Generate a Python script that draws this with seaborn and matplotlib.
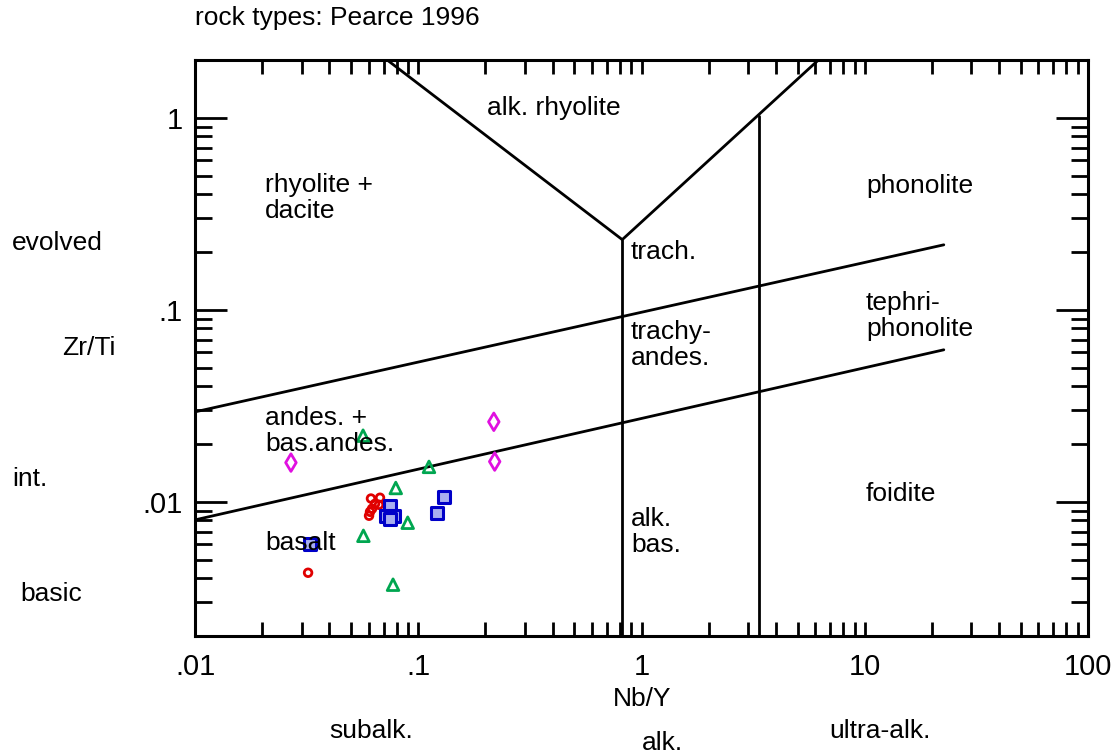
import numpy as np
import pandas as pd
import matplotlib
matplotlib.use("Agg")
import matplotlib.pyplot as plt
from matplotlib.ticker import FixedLocator, FixedFormatter, LogLocator, NullFormatter
import seaborn as sns

# ---- sample data: Nb/Y and Zr/Ti ----
red_nby = [0.0614, 0.0674, 0.0640, 0.0667, 0.0621, 0.0608, 0.0602, 0.0321]
red_zrti = [0.0104, 0.0105, 0.00976, 0.00965, 0.00920, 0.00887, 0.00846, 0.00427]

blue_nby = [0.0328, 0.130, 0.1214, 0.0747, 0.0717, 0.0778, 0.0747]
blue_zrti = [0.00604, 0.0106, 0.00877, 0.00953, 0.00846, 0.00846, 0.00816]

green_nby = [0.0566, 0.1117, 0.0793, 0.0897, 0.0568, 0.0771]
green_zrti = [0.0221, 0.0152, 0.0118, 0.00778, 0.00665, 0.00370]

mag_nby = [0.0269, 0.218, 0.220]
mag_zrti = [0.0160, 0.0261, 0.0162]

# ---- field boundaries of the Pearce (1996) diagram ----
upper_x = [0.01, 22.6]
upper_y = [0.0294, 0.218]
lower_x = [0.01, 22.6]
lower_y = [0.00805, 0.0619]
vleft_x = [0.82, 0.82]
vleft_y = [0.002, 0.232]
vright_x = [3.35, 3.35]
vright_y = [0.002, 1.02]
vee_x = [0.0726, 0.82, 6.2]
vee_y = [2.0, 0.232, 2.0]

x_ticks = [0.01, 0.1, 1, 10, 100]
x_tick_labels = [".01", ".1", "1", "10", "100"]
y_ticks = [0.01, 0.1, 1]
y_tick_labels = [".01", ".1", "1"]

sns.set_theme(style="white")
plt.rcParams["font.family"] = ["Liberation Sans", "DejaVu Sans"]
FS = 19
TFS = 21

W, H = 1117, 756
fig = plt.figure(figsize=(W / 100, H / 100), dpi=100)
L, R, T, B = 195, 1088, 60, 636
ax = fig.add_axes([L / W, 1 - B / H, (R - L) / W, (B - T) / H])
ax.set_xscale("log")
ax.set_yscale("log")
ax.set_xlim(0.01, 100)
ax.set_ylim(0.002, 2)

lw = 2.0
for xs, ys in [(upper_x, upper_y), (lower_x, lower_y), (vleft_x, vleft_y),
               (vright_x, vright_y), (vee_x, vee_y)]:
    sns.lineplot(x=xs, y=ys, ax=ax, color="black", lw=lw, sort=False,
                 estimator=None, zorder=2)


def pts(xs, ys, marker, s, edge, face, lwid):
    sns.scatterplot(x=xs, y=ys, ax=ax, marker=marker, s=s, color=edge, zorder=5)
    coll = ax.collections[-1]
    coll.set_facecolor(face)
    coll.set_edgecolor(edge)
    coll.set_linewidth(lwid)


pts(green_nby, green_zrti, "^", 70, "#00a650", "none", 2.0)
pts(mag_nby, mag_zrti, "d", 80, "#e010e0", "none", 2.0)
pts(red_nby, red_zrti, "o", 30, "#e00000", "none", 2.0)
pts(blue_nby, blue_zrti, "s", 72, "#0000c8", "#a8aef0", 2.2)

# axes frame and ticks
for sp in ax.spines.values():
    sp.set_visible(True)
    sp.set_color("black")
    sp.set_linewidth(2.2)
ax.xaxis.set_major_locator(FixedLocator(x_ticks))
ax.xaxis.set_major_formatter(FixedFormatter(x_tick_labels))
ax.yaxis.set_major_locator(FixedLocator(y_ticks))
ax.yaxis.set_major_formatter(FixedFormatter(y_tick_labels))
ax.xaxis.set_minor_locator(LogLocator(base=10, subs=np.arange(2, 10), numticks=20))
ax.yaxis.set_minor_locator(LogLocator(base=10, subs=np.arange(2, 10), numticks=20))
ax.xaxis.set_minor_formatter(NullFormatter())
ax.yaxis.set_minor_formatter(NullFormatter())
ax.tick_params(axis="both", which="both", direction="in",
               top=True, bottom=True, left=True, right=True,
               width=2.0, color="black", labelsize=TFS, labelcolor="black")
ax.tick_params(axis="x", which="both", length=10, pad=12)
ax.tick_params(axis="y", which="major", length=23, pad=9)
ax.tick_params(axis="y", which="minor", length=12)
ax.grid(False)


def ftext(px, py, s, ha="left", va="center", **kw):
    fig.text(px / W, 1 - py / H, s, ha=ha, va=va, fontsize=FS,
             color="black", linespacing=1.1, **kw)


ftext(195, 18, "rock types: Pearce 1996")
ftext(487, 108, "alk. rhyolite")
ftext(265, 198, "rhyolite +\ndacite")
ftext(866, 186, "phonolite")
ftext(12, 243, "evolved")
ftext(631, 252, "trach.")
ftext(866, 316, "tephri-\nphonolite")
ftext(62, 348, "Zr/Ti")
ftext(631, 345, "trachy-\nandes.")
ftext(265, 431, "andes. +\nbas.andes.")
ftext(12, 479, "int.")
ftext(866, 494, "foidite")
ftext(631, 532, "alk.\nbas.")
ftext(265, 543, "basalt")
ftext(20, 594, "basic")
ftext(642, 699, "Nb/Y", ha="center")
ftext(371, 731, "subalk.", ha="center")
ftext(662, 743, "alk.", ha="center")
ftext(880, 731, "ultra-alk.", ha="center")

fig.savefig("out.png", dpi=100, facecolor="white")
